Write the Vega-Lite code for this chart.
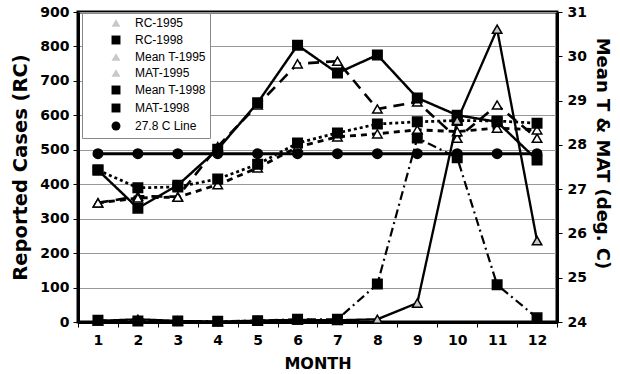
{
  "$schema": "https://vega.github.io/schema/vega-lite/v6.json",
  "width": 479,
  "height": 310,
  "autosize": {"type": "none"},
  "padding": {"left": 78, "top": 12, "right": 63, "bottom": 52},
  "background": "white",
  "config": {
    "view": {"stroke": "black", "strokeWidth": 3},
    "axis": {
      "labelFont": "DejaVu Sans", "labelFontWeight": "bold", "labelFontSize": 14, "labelColor": "black",
      "titleFont": "DejaVu Sans", "titleFontWeight": "bold", "titleFontSize": 18, "titleColor": "black",
      "domainColor": "black", "domainWidth": 3, "tickColor": "black", "tickSize": 5, "tickWidth": 1,
      "gridColor": "#999999", "gridWidth": 1
    },
    "legend": {
      "orient": "none", "legendX": 4, "legendY": 1, "title": null,
      "symbolSize": 80, "symbolStrokeWidth": 1.5, "symbolStrokeColor": "black", "symbolOffset": 24, "labelOffset": 13,
      "labelFont": "Liberation Sans", "labelFontSize": 12, "labelColor": "black",
      "rowPadding": 2, "padding": 4, "fillColor": "white", "strokeColor": "#888888"
    }
  },
  "data": {
    "values": [
      {"series": "RC-1995", "month": 1, "value": 3}, {"series": "RC-1995", "month": 2, "value": 8}, {"series": "RC-1995", "month": 3, "value": 3}, {"series": "RC-1995", "month": 4, "value": 1}, {"series": "RC-1995", "month": 5, "value": 4}, {"series": "RC-1995", "month": 6, "value": 6}, {"series": "RC-1995", "month": 7, "value": 5}, {"series": "RC-1995", "month": 8, "value": 8}, {"series": "RC-1995", "month": 9, "value": 55}, {"series": "RC-1995", "month": 10, "value": 585}, {"series": "RC-1995", "month": 11, "value": 850}, {"series": "RC-1995", "month": 12, "value": 236},
      {"series": "RC-1998", "month": 1, "value": 5}, {"series": "RC-1998", "month": 2, "value": 3}, {"series": "RC-1998", "month": 3, "value": 3}, {"series": "RC-1998", "month": 4, "value": 2}, {"series": "RC-1998", "month": 5, "value": 4}, {"series": "RC-1998", "month": 6, "value": 8}, {"series": "RC-1998", "month": 7, "value": 8}, {"series": "RC-1998", "month": 8, "value": 110}, {"series": "RC-1998", "month": 9, "value": 534}, {"series": "RC-1998", "month": 10, "value": 477}, {"series": "RC-1998", "month": 11, "value": 108}, {"series": "RC-1998", "month": 12, "value": 12},
      {"series": "Mean T-1995", "month": 1, "value": 26.69}, {"series": "Mean T-1995", "month": 2, "value": 26.84}, {"series": "Mean T-1995", "month": 3, "value": 26.83}, {"series": "Mean T-1995", "month": 4, "value": 27.96}, {"series": "Mean T-1995", "month": 5, "value": 28.9}, {"series": "Mean T-1995", "month": 6, "value": 29.83}, {"series": "Mean T-1995", "month": 7, "value": 29.89}, {"series": "Mean T-1995", "month": 8, "value": 28.81}, {"series": "Mean T-1995", "month": 9, "value": 28.97}, {"series": "Mean T-1995", "month": 10, "value": 28.15}, {"series": "Mean T-1995", "month": 11, "value": 28.9}, {"series": "Mean T-1995", "month": 12, "value": 28.15},
      {"series": "MAT-1995", "month": 1, "value": 26.69}, {"series": "MAT-1995", "month": 2, "value": 26.8}, {"series": "MAT-1995", "month": 3, "value": 26.82}, {"series": "MAT-1995", "month": 4, "value": 27.1}, {"series": "MAT-1995", "month": 5, "value": 27.48}, {"series": "MAT-1995", "month": 6, "value": 27.95}, {"series": "MAT-1995", "month": 7, "value": 28.18}, {"series": "MAT-1995", "month": 8, "value": 28.25}, {"series": "MAT-1995", "month": 9, "value": 28.34}, {"series": "MAT-1995", "month": 10, "value": 28.3}, {"series": "MAT-1995", "month": 11, "value": 28.38}, {"series": "MAT-1995", "month": 12, "value": 28.34},
      {"series": "Mean T-1998", "month": 1, "value": 27.43}, {"series": "Mean T-1998", "month": 2, "value": 26.57}, {"series": "Mean T-1998", "month": 3, "value": 27.09}, {"series": "Mean T-1998", "month": 4, "value": 27.9}, {"series": "Mean T-1998", "month": 5, "value": 28.95}, {"series": "Mean T-1998", "month": 6, "value": 30.25}, {"series": "Mean T-1998", "month": 7, "value": 29.62}, {"series": "Mean T-1998", "month": 8, "value": 30.03}, {"series": "Mean T-1998", "month": 9, "value": 29.06}, {"series": "Mean T-1998", "month": 10, "value": 28.67}, {"series": "Mean T-1998", "month": 11, "value": 28.52}, {"series": "Mean T-1998", "month": 12, "value": 27.66},
      {"series": "MAT-1998", "month": 1, "value": 27.43}, {"series": "MAT-1998", "month": 2, "value": 27.03}, {"series": "MAT-1998", "month": 3, "value": 27.05}, {"series": "MAT-1998", "month": 4, "value": 27.23}, {"series": "MAT-1998", "month": 5, "value": 27.56}, {"series": "MAT-1998", "month": 6, "value": 28.04}, {"series": "MAT-1998", "month": 7, "value": 28.27}, {"series": "MAT-1998", "month": 8, "value": 28.47}, {"series": "MAT-1998", "month": 9, "value": 28.52}, {"series": "MAT-1998", "month": 10, "value": 28.55}, {"series": "MAT-1998", "month": 11, "value": 28.54}, {"series": "MAT-1998", "month": 12, "value": 28.49},
      {"series": "27.8 C Line", "month": 1, "value": 27.8}, {"series": "27.8 C Line", "month": 2, "value": 27.8}, {"series": "27.8 C Line", "month": 3, "value": 27.8}, {"series": "27.8 C Line", "month": 4, "value": 27.8}, {"series": "27.8 C Line", "month": 5, "value": 27.8}, {"series": "27.8 C Line", "month": 6, "value": 27.8}, {"series": "27.8 C Line", "month": 7, "value": 27.8}, {"series": "27.8 C Line", "month": 8, "value": 27.8}, {"series": "27.8 C Line", "month": 9, "value": 27.8}, {"series": "27.8 C Line", "month": 10, "value": 27.8}, {"series": "27.8 C Line", "month": 11, "value": 27.8}, {"series": "27.8 C Line", "month": 12, "value": 27.8}
    ]
  },
  "encoding": {
    "x": {
      "field": "month", "type": "ordinal", "bandPosition": 0.5,
      "scale": {"type": "band", "paddingInner": 0, "paddingOuter": 0},
      "axis": {"title": "MONTH", "labelAngle": 0, "tickBand": "extent", "labelPadding": 6, "titlePadding": 8, "titleFontSize": 16}
    }
  },
  "layer": [
    {
      "transform": [{"filter": "datum.series != 'RC-1995' && datum.series != 'RC-1998'"}],
      "encoding": {
        "y": {
          "field": "value", "type": "quantitative",
          "scale": {"domain": [24, 31], "nice": false, "zero": false},
          "axis": {"orient": "right", "values": [24, 25, 26, 27, 28, 29, 30, 31], "grid": false, "title": "Mean T &  MAT (deg. C)", "titlePadding": 6, "labelPadding": 5, "titleY": 141}
        }
      },
      "layer": [
        {
          "mark": {"type": "line", "color": "black"},
          "encoding": {
            "strokeDash": {"field": "series", "type": "nominal", "legend": null,
              "scale": {"domain": ["27.8 C Line", "MAT-1995", "MAT-1998", "Mean T-1995", "Mean T-1998", "RC-1995", "RC-1998"],
                        "range": [[1, 0], [6, 5], [3, 3], [11, 7], [1, 0], [1, 0], [9, 4, 2, 4]]}},
            "strokeWidth": {"field": "series", "type": "nominal", "legend": null,
              "scale": {"domain": ["27.8 C Line", "MAT-1995", "MAT-1998", "Mean T-1995", "Mean T-1998", "RC-1995", "RC-1998"],
                        "range": [3, 2.2, 2.5, 3, 1.5, 3, 2]}}
          }
        },
        {
          "mark": {"type": "point", "filled": true, "stroke": "black", "strokeWidth": 1.5, "opacity": 1, "size": 90},
          "encoding": {
            "fill": {"field": "series", "type": "nominal", "legend": null,
              "scale": {"domain": ["Mean T-1995", "MAT-1995", "Mean T-1998", "MAT-1998", "27.8 C Line"],
                        "range": ["white", "white", "black", "black", "black"]}},
            "shape": {"field": "series", "type": "nominal", "legend": null,
              "scale": {"domain": ["Mean T-1995", "MAT-1995", "Mean T-1998", "MAT-1998", "27.8 C Line"],
                        "range": ["triangle-up", "triangle-up", "square", "square", "circle"]}}
          }
        }
      ]
    },
    {
      "transform": [{"filter": "datum.series == 'RC-1995' || datum.series == 'RC-1998'"}],
      "encoding": {
        "y": {
          "field": "value", "type": "quantitative",
          "scale": {"domain": [0, 900], "nice": false},
          "axis": {"orient": "left", "values": [0, 100, 200, 300, 400, 500, 600, 700, 800, 900], "grid": true, "title": "Reported Cases (RC)", "titlePadding": 9, "labelPadding": 4, "titleFontSize": 19.5}
        }
      },
      "layer": [
        {
          "mark": {"type": "line", "color": "black"},
          "encoding": {
            "strokeDash": {"field": "series", "type": "nominal", "legend": null},
            "strokeWidth": {"field": "series", "type": "nominal", "legend": null}
          }
        },
        {
          "mark": {"type": "point", "filled": true, "stroke": "black", "strokeWidth": 1.5, "opacity": 1, "size": 90},
          "encoding": {
            "fill": {"field": "series", "type": "nominal",
              "scale": {"domain": ["RC-1995", "RC-1998", "Mean T-1995", "MAT-1995", "Mean T-1998", "MAT-1998", "27.8 C Line"],
                        "range": ["#c8c8c8", "black", "#c8c8c8", "#c8c8c8", "black", "black", "black"]},
              "legend": {"orient": "none", "legendX": 4, "legendY": 1, "title": null}},
            "shape": {"field": "series", "type": "nominal",
              "scale": {"domain": ["RC-1995", "RC-1998", "Mean T-1995", "MAT-1995", "Mean T-1998", "MAT-1998", "27.8 C Line"],
                        "range": ["triangle-up", "square", "triangle-up", "triangle-up", "square", "square", "circle"]},
              "legend": {"orient": "none", "legendX": 4, "legendY": 1, "title": null}}
          }
        }
      ]
    }
  ],
  "resolve": {
    "scale": {"y": "independent", "shape": "independent", "fill": "independent"},
    "legend": {"shape": "independent", "fill": "independent"}
  }
}
